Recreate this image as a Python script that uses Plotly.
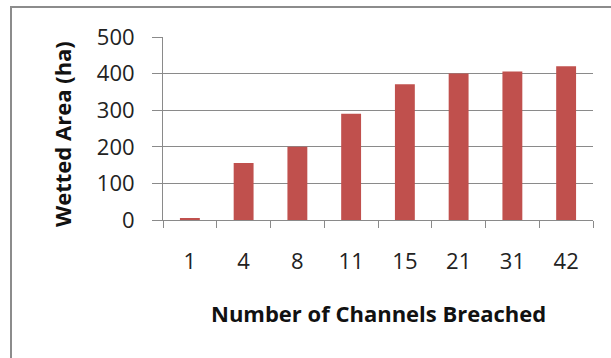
import plotly.graph_objects as go

# Wetted area reached for each number of breached channels
channels = ["1", "4", "8", "11", "15", "21", "31", "42"]
wetted_area_ha = [5, 156, 200, 290, 371, 400, 406, 420]
y_ticks = [0, 100, 200, 300, 400, 500]

W, H = 611, 358
L, R, T, B = 163, 18, 37, 138
plot_w = W - L - R
plot_h = H - T - B


def px_x(x):
    return (x - L) / plot_w


def px_y(y):
    return (H - B - y) / plot_h


grey = "#8a8a8a"
font_family = "Open Sans, Lato, DejaVu Sans, sans-serif"

fig = go.Figure(
    go.Bar(
        x=channels,
        y=wetted_area_ha,
        marker=dict(color="#C0504D", line=dict(width=0)),
        width=0.37,
    )
)

fig.update_layout(
    width=W,
    height=H,
    margin=dict(l=L, r=R, t=T, b=B),
    paper_bgcolor="white",
    plot_bgcolor="white",
    showlegend=False,
    font=dict(family=font_family, color="#1a1a1a"),
    xaxis=dict(
        type="category",
        showgrid=False,
        showline=True,
        linecolor=grey,
        linewidth=1,
        ticks="outside",
        tickson="boundaries",
        ticklen=7,
        tickcolor=grey,
        tickfont=dict(size=22, color="#222222"),
        ticklabelstandoff=22,
        fixedrange=True,
    ),
    yaxis=dict(
        range=[0, 500],
        tickvals=y_ticks,
        showgrid=True,
        gridcolor=grey,
        gridwidth=1,
        zeroline=False,
        showline=True,
        linecolor=grey,
        linewidth=1,
        ticks="outside",
        ticklen=10,
        tickcolor=grey,
        tickfont=dict(size=22, color="#222222"),
        ticklabelstandoff=13,
        fixedrange=True,
    ),
    annotations=[
        dict(
            text="<b>Number of Channels Breached</b>",
            xref="paper", yref="paper",
            x=px_x(378), y=px_y(313),
            xanchor="center", yanchor="middle",
            showarrow=False,
            font=dict(size=22, color="#111111"),
        ),
        dict(
            text="<b>Wetted Area (ha)</b>",
            xref="paper", yref="paper",
            x=px_x(62), y=px_y(134),
            xanchor="center", yanchor="middle",
            textangle=-90,
            showarrow=False,
            font=dict(size=22, color="#111111"),
        ),
    ],
    shapes=[
        # outer chart frame (runs past the right and bottom edges)
        dict(
            type="rect",
            xref="paper", yref="paper",
            x0=px_x(11), x1=px_x(W + 20),
            y0=px_y(H + 20), y1=px_y(7),
            line=dict(color="#8c8c8c", width=2),
            fillcolor="rgba(0,0,0,0)",
            layer="below",
        )
    ],
)

fig.write_html("out.html")
